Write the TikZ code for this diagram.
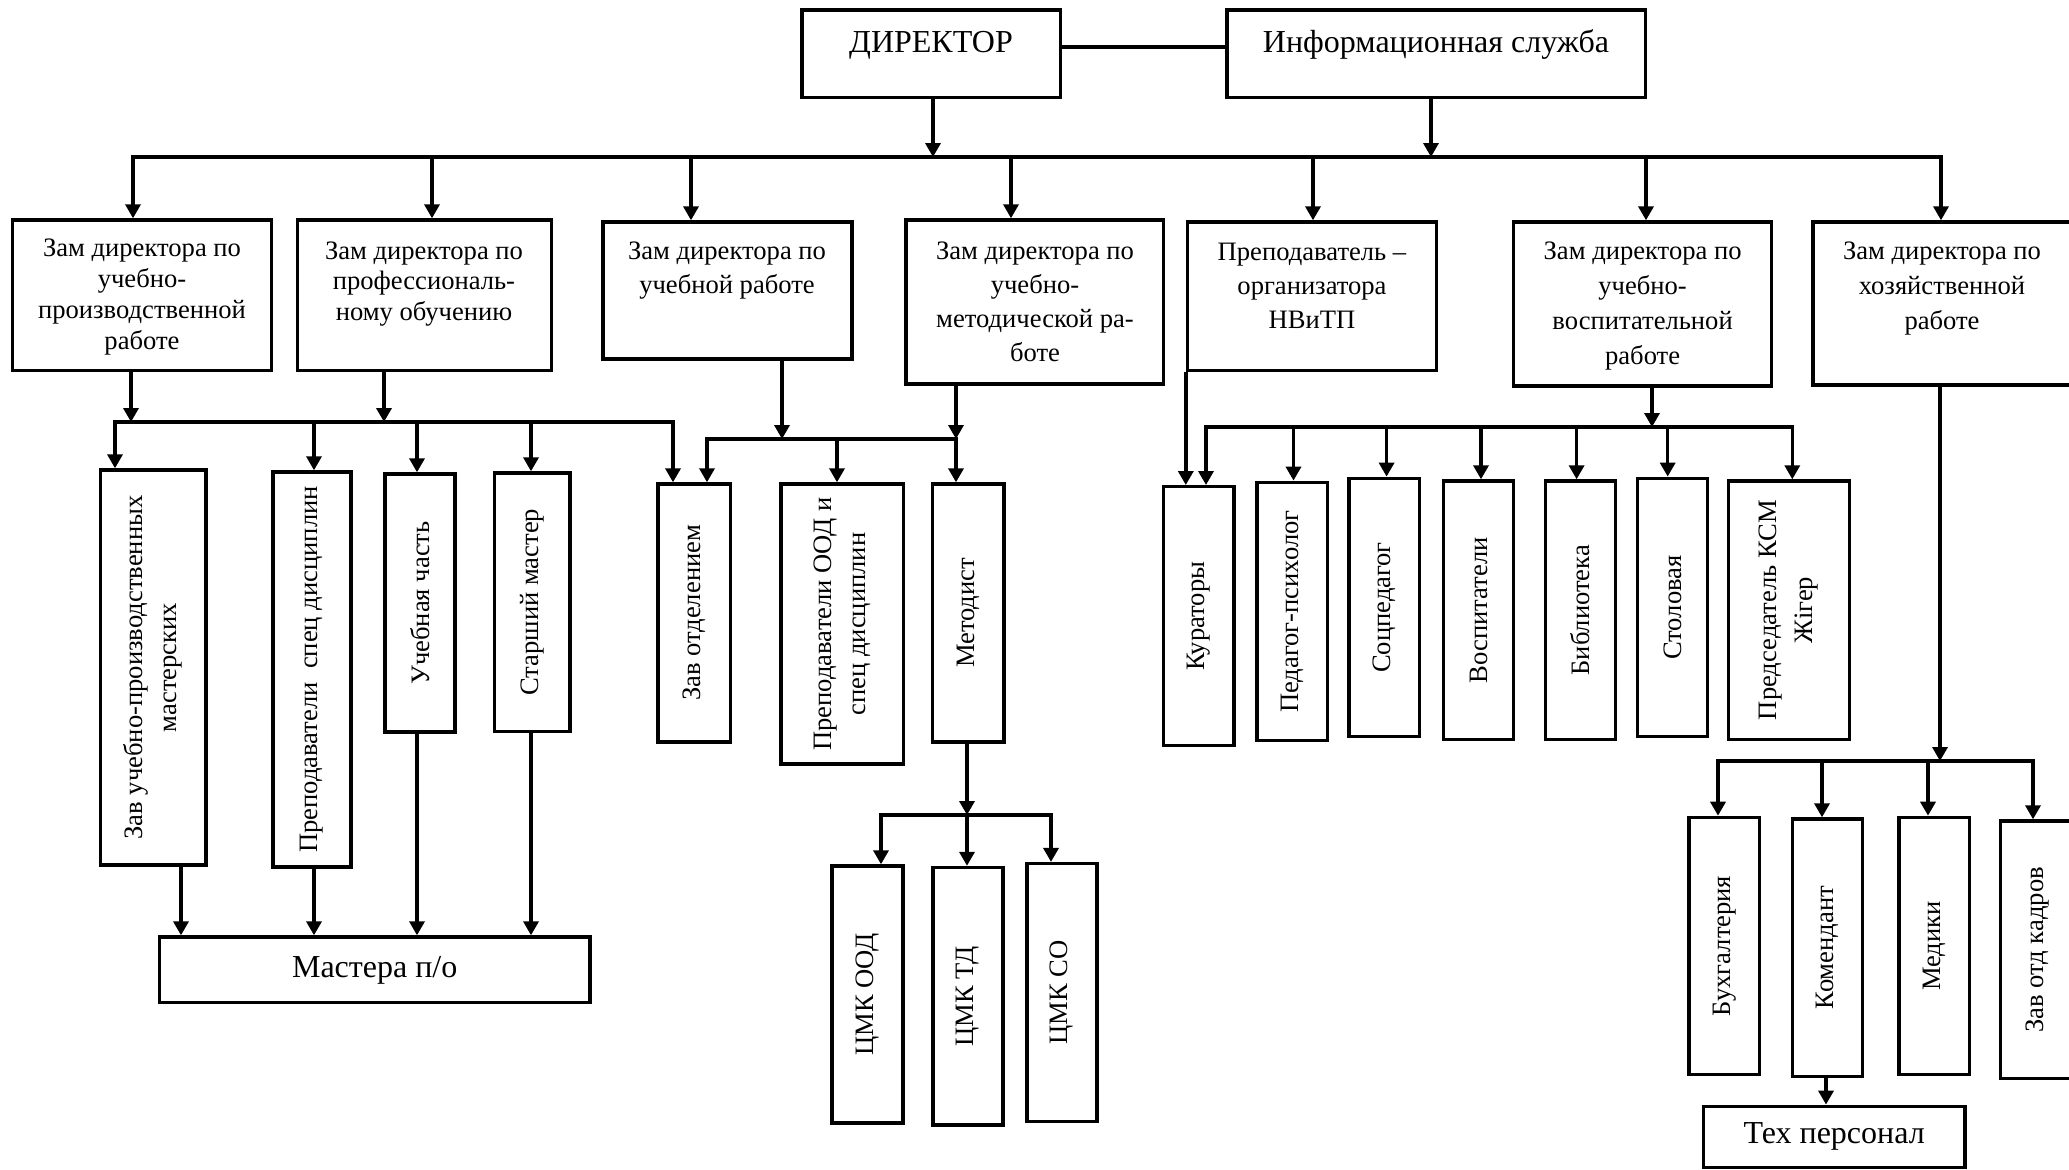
\documentclass[tikz,border=0pt]{standalone}
\usepackage{fontspec}
\setmainfont{Liberation Serif}
\usetikzlibrary{arrows.meta,fit}
\tikzset{
  box/.style={draw, line width=1.7pt, inner sep=0pt},
  conn/.style={line width=1.7pt, line cap=rect},
  arr/.style={line width=1.7pt, -{Triangle[length=7pt,width=7.5pt]}},
  txt/.style={font=\fontsize{13.3}{17}\selectfont, align=center, inner sep=0pt},
  txtA/.style={txt, font=\fontsize{13.3}{15.4}\selectfont},
  big/.style={txt, font=\fontsize{16}{19}\selectfont},
  vtxt/.style={txt, rotate=90},
}
\newcommand\bx[5]{\node[box, fit={(#2,#3) (#4,#5)}] (#1) {};}
\begin{document}
\begin{tikzpicture}[x=0.5pt,y=-0.5pt]
\useasboundingbox (0,0) rectangle (2069,1169);
\fill[white] (0,0) rectangle (2069,1169);
% ---------- boxes ----------
\bx{DIR}{802}{10}{1060.5}{97.5}
\bx{INF}{1227}{10}{1645.5}{97.5}
\bx{A}{12.6}{220}{271.5}{370.7}
\bx{B}{297.4}{220}{551.4}{370.7}
\bx{C}{603}{222}{852}{359}
\bx{D}{906}{220}{1163.6}{384}
\bx{E}{1187.5}{222}{1436.3}{370.7}
\bx{F}{1513.4}{222}{1771.7}{386}
\bx{G}{1813}{222}{2075}{385}
\bx{ZUP}{100.4}{470}{206}{865}
\bx{PSD}{272.8}{472}{351}{867}
\bx{UCH}{385}{474}{455}{732}
\bx{SM}{494.6}{473}{570}{731.6}
\bx{MPO}{159.4}{937}{590}{1002.7}
\bx{ZO}{658}{484}{730.7}{741.8}
\bx{POOD}{781}{484}{903.3}{764}
\bx{MET}{932.3}{484}{1004}{741.8}
\bx{CMKa}{832}{866}{903}{1123}
\bx{CMKb}{933}{867.5}{1003}{1125}
\bx{CMKc}{1027}{863.6}{1097}{1121.5}
\bx{KUR}{1163.6}{486.7}{1234}{745.7}
\bx{PED}{1257}{482.3}{1327.5}{740.7}
\bx{SOC}{1349}{478.3}{1419.6}{736.7}
\bx{VOS}{1443.3}{481}{1513.6}{739.3}
\bx{BIB}{1545.6}{481}{1615.4}{739.3}
\bx{STO}{1637.7}{478.3}{1707.5}{736.7}
\bx{PRE}{1728.3}{481}{1849.5}{739.3}
\bx{BUH}{1689}{817.4}{1759.3}{1074.7}
\bx{KOM}{1792.3}{819}{1862.7}{1076.3}
\bx{MED}{1899}{817.4}{1969.3}{1074.7}
\bx{ZOK}{2000.7}{821}{2075}{1078.3}
\bx{TEX}{1703.3}{1106.3}{1965}{1167.5}
% ---------- texts ----------
\node[big, anchor=base] (DIRt) at (931,52) {ДИРЕКТОР};
\node[big, anchor=base] (INFt) at (1436,52) {Информационная служба};
\node[txtA] (At) at (142,297) {Зам директора по\\учебно-\\производственной\\работе};
\node[txtA] (Bt) at (424,284) {Зам директора по\\профессиональ-\\ному обучению};
\node[txt] (Ct) at (727,271) {Зам директора по\\учебной работе};
\node[txt] (Dt) at (1035,302) {Зам директора по\\учебно-\\методической ра-\\боте};
\node[txt] (Et) at (1312,286) {Преподаватель –\\организатора\\НВиТП};
\node[txt, font=\fontsize{13.3}{17.5}\selectfont] (Ft) at (1642.6,306) {Зам директора по\\учебно-\\воспитательной\\работе};
\node[txt, font=\fontsize{13.3}{17.5}\selectfont] (Gt) at (1942,289) {Зам директора по\\хозяйственной\\работе};
\node[vtxt] (ZUPt) at (ZUP.center) {Зав учебно-производственных\\мастерских};
\node[vtxt] (PSDt) at (PSD.center) {Преподаватели\ \ спец дисциплин};
\node[vtxt] (UCHt) at (UCH.center) {Учебная часть};
\node[vtxt] (SMt) at (SM.center) {Старший мастер};
\node[big] (MPOt) at (MPO.center) {Мастера п/о};
\node[vtxt] (ZOt) at (ZO.center) {Зав отделением};
\node[vtxt] (POODt) at (POOD.center) {Преподаватели ООД и\\спец дисциплин};
\node[vtxt] (METt) at (MET.center) {Методист};
\node[vtxt] (CMKat) at (CMKa.center) {ЦМК ООД};
\node[vtxt] (CMKbt) at (CMKb.center) {ЦМК ТД};
\node[vtxt] (CMKct) at (CMKc.center) {ЦМК СО};
\node[vtxt] (KURt) at (KUR.center) {Кураторы};
\node[vtxt] (PEDt) at (PED.center) {Педагог-психолог};
\node[vtxt] (SOCt) at (SOC.center) {Соцпедагог};
\node[vtxt] (VOSt) at (VOS.center) {Воспитатели};
\node[vtxt] (BIBt) at (BIB.center) {Библиотека};
\node[vtxt] (STOt) at (STO.center) {Столовая};
\node[vtxt, font=\fontsize{13.3}{18}\selectfont] (PREt) at (PRE.center) {Председатель КСМ\\Жігер};
\node[vtxt] (BUHt) at (BUH.center) {Бухгалтерия};
\node[vtxt] (KOMt) at (KOM.center) {Комендант};
\node[vtxt] (MEDt) at (MED.center) {Медики};
\node[vtxt] (ZOKt) at (2038,950) {Зав отд кадров};
\node[big] (TEXt) at (TEX.center) {Тех персонал};
% ---------- bus coordinates ----------
\coordinate (b1L) at (133,157);  \coordinate (b1R) at (1941,157);
\coordinate (b2L) at (115,422);  \coordinate (b2R) at (673,422);
\coordinate (b3L) at (707,439);  \coordinate (b3R) at (956,439);
\coordinate (b4L) at (881,815);  \coordinate (b4R) at (1051,815);
\coordinate (b5L) at (1206,427); \coordinate (b5R) at (1792,427);
\coordinate (b6L) at (1718,761); \coordinate (b6R) at (2033,761);
% ---------- connectors ----------
\draw[conn, line cap=butt] (DIR.east |- 0,47) -- (INF.west |- 0,47);
\draw[conn] (b1L) -- (b1R);
\draw[arr] (DIR.south -| 933,0) -- (b1L -| 933,0);
\draw[arr] (INF.south -| 1431,0) -- (b1L -| 1431,0);
\foreach \xx/\nn in {133/A, 432/B, 691/C, 1011/D, 1313/E, 1646/F, 1941/G}
  \draw[arr] (b1L -| \xx,0) -- (\nn.north -| \xx,0);
% left group
\draw[conn] (b2L) -- (b2R);
\draw[arr] (A.south -| 131,0) -- (b2L -| 131,0);
\draw[arr] (B.south -| 384,0) -- (b2L -| 384,0);
\foreach \xx/\nn in {115/ZUP, 314/PSD, 417/UCH, 531/SM, 673/ZO}
  \draw[arr] (b2L -| \xx,0) -- (\nn.north -| \xx,0);
\foreach \xx/\nn in {181/ZUP, 314/PSD, 417/UCH, 531/SM}
  \draw[arr] (\nn.south -| \xx,0) -- (MPO.north -| \xx,0);
% middle group
\draw[conn] (b3L) -- (b3R);
\draw[arr] (C.south -| 782,0) -- (b3L -| 782,0);
\draw[arr] (D.south -| 956,0) -- (b3R);
\foreach \xx/\nn in {707/ZO, 837/POOD, 956/MET}
  \draw[arr] (b3L -| \xx,0) -- (\nn.north -| \xx,0);
\draw[conn] (b4L) -- (b4R);
\draw[arr] (MET.south -| 967,0) -- (b4L -| 967,0);
\foreach \xx/\nn in {881/CMKa, 967/CMKb, 1051/CMKc}
  \draw[arr] (b4L -| \xx,0) -- (\nn.north -| \xx,0);
% right group
\draw[arr] (E.south west) -- (KUR.north -| E.south west);
\draw[conn] (b5L) -- (b5R);
\draw[arr] (F.south -| 1652,0) -- (b5L -| 1652,0);
\foreach \xx/\nn in {1206/KUR, 1293.5/PED, 1386.6/SOC, 1481/VOS, 1576.6/BIB, 1667.7/STO, 1792.3/PRE}
  \draw[arr] (b5L -| \xx,0) -- (\nn.north -| \xx,0);
\draw[conn] (b6L) -- (b6R);
\draw[arr] (G.south -| 1940,0) -- (b6L -| 1940,0);
\foreach \xx/\nn in {1718/BUH, 1822/KOM, 1928/MED, 2033/ZOK}
  \draw[arr] (b6L -| \xx,0) -- (\nn.north -| \xx,0);
\draw[arr] (KOM.south -| 1826,0) -- (TEX.north -| 1826,0);
\end{tikzpicture}
\end{document}
